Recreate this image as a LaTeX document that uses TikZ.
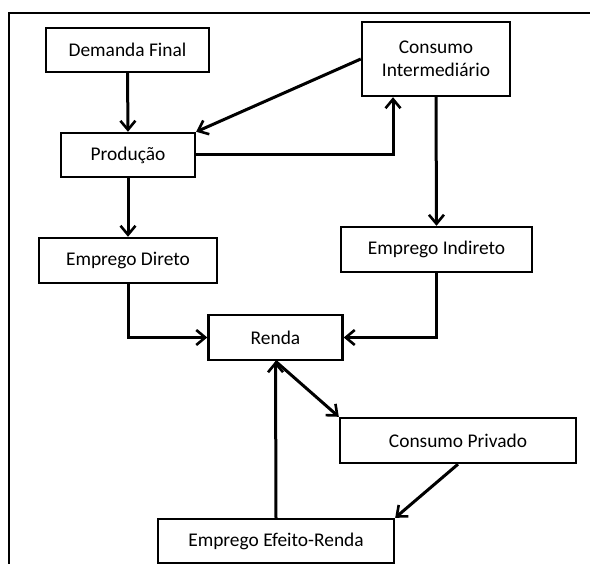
\documentclass[tikz,border=0pt]{standalone}
\usepackage{fontspec}
\setmainfont{Carlito}
\usetikzlibrary{arrows.meta}
\begin{document}
\begin{tikzpicture}[x=1pt,y=-1pt,
  box/.style={draw=black,line width=2.4pt,fill=white,inner sep=0pt,align=center,
    font=\fontsize{19.4}{23}\selectfont},
  conn/.style={line width=3pt,-{Straight Barb[length=9pt,width=15pt,line width=2.6pt]}}]
\useasboundingbox (0,0) rectangle (590,564);
\draw[line width=2.8pt] (590,13) -- (9,13) -- (9,566);
\node[box,minimum width=163pt,minimum height=44pt] (df) at (127.5,50) {Demanda Final};
\node[box,minimum width=134pt,minimum height=44pt] (p) at (128,155) {Produção};
\node[box,minimum width=148pt,minimum height=74pt] (ci) at (436,59) {Consumo\\Intermediário};
\node[box,minimum width=178pt,minimum height=45pt] (ed) at (128,260.5) {Emprego Direto};
\node[box,minimum width=191pt,minimum height=45pt] (ei) at (436.5,249.5) {Emprego Indireto};
\node[box,minimum width=134pt,minimum height=45pt] (r) at (275.5,337.5) {Renda};
\node[box,minimum width=236pt,minimum height=45pt] (cp) at (458,440.5) {Consumo Privado};
\node[box,minimum width=236pt,minimum height=44pt] (eer) at (276,541) {Emprego Efeito-Renda};
\draw[conn] (df.south) -- (p.north);
\draw[conn] (ci.west) -- (p.north east);
\draw[conn] (p.east) -| ([xshift=-43pt]ci.south);
\draw[conn] (p.south) -- (ed.north);
\draw[conn] (ci.south) -- (ei.north);
\draw[conn] (ed.south) |- (r.west);
\draw[conn] (ei.south) |- (r.east);
\draw[conn] (r.south) -- (cp.north west);
\draw[conn] (cp.south) -- (eer.north east);
\draw[conn] (eer.north) -- (r.south);
\end{tikzpicture}
\end{document}
